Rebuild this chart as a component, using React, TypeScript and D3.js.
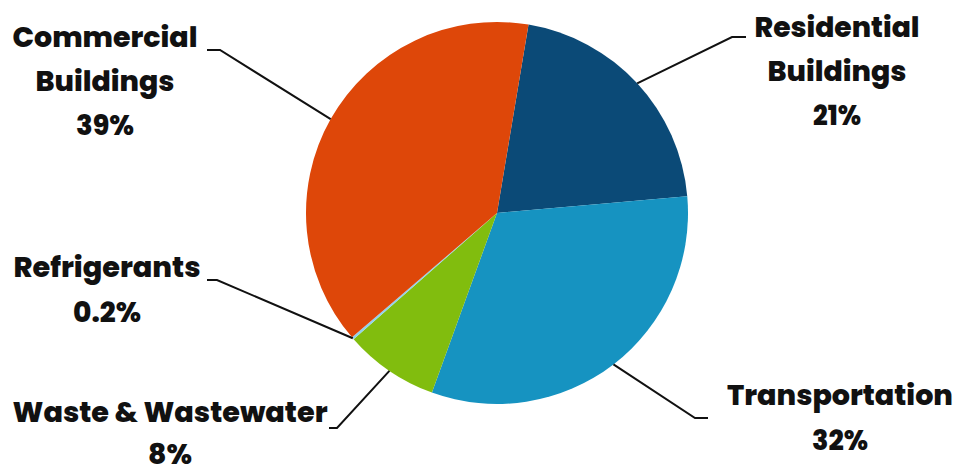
import React from "react";
import * as d3 from "d3";

const categories = [
  "Residential Buildings",
  "Transportation",
  "Waste & Wastewater",
  "Refrigerants",
  "Commercial Buildings",
];
const values = [21, 32, 8, 0.2, 39];
const labelLines = [
  ["Residential", "Buildings"],
  ["Transportation"],
  ["Waste & Wastewater"],
  ["Refrigerants"],
  ["Commercial", "Buildings"],
];
const colors = ["#0B4A77", "#1693C1", "#81BD0E", "#92D2EC", "#DE4709"];

const W = 959;
const H = 469;
const CX = 497;
const CY = 213;
const R = 191;
const START_DEG = 9.5;

// layout for labels: center x, first baseline, line gap, leader elbow & end, widths
const labelLayout = [
  { x: 837, y: 37, gap: 44, elbow: [732, 37], end: [746, 37], widths: [165, 139, 48] },
  { x: 840, y: 405, gap: 45, elbow: [695, 418], end: [708, 418], widths: [226, 56] },
  { x: 170, y: 422, gap: 42, elbow: [337, 428], end: [329, 428], widths: [315, 44] },
  { x: 107, y: 277, gap: 45, elbow: [217, 280], end: [207, 280], widths: [187, 68] },
  { x: 105, y: 47, gap: 44, elbow: [220, 50], end: [207, 50], widths: [185, 139, 58] },
];

export default function App() {
  const pie = d3
    .pie<number>()
    .sort(null)
    .value((d) => d)
    .startAngle((START_DEG * Math.PI) / 180)
    .endAngle((START_DEG * Math.PI) / 180 + 2 * Math.PI);
  const arcs = pie(values);
  const arc = d3.arc<d3.PieArcDatum<number>>().innerRadius(0).outerRadius(R);
  const edge = d3.arc<d3.PieArcDatum<number>>().innerRadius(R).outerRadius(R);

  return (
    <svg
      width={W}
      height={H}
      style={{ position: "absolute", left: 0, top: 0, background: "#fff" }}
    >
      <g transform={`translate(${CX},${CY})`}>
        {arcs.map((a, i) => (
          <path key={categories[i]} d={arc(a) || ""} fill={colors[i]} />
        ))}
      </g>
      {arcs.map((a, i) => {
        const [ex, ey] = edge.centroid(a);
        const L = labelLayout[i];
        const pts = [[CX + ex, CY + ey], L.elbow, L.end];
        return (
          <polyline
            key={"l" + i}
            points={pts.map((p) => p.join(",")).join(" ")}
            fill="none"
            stroke="#111"
            strokeWidth={2}
          />
        );
      })}
      {arcs.map((a, i) => {
        const L = labelLayout[i];
        const lines = [...labelLines[i], `${values[i]}%`];
        return (
          <g key={"t" + i}>
            {lines.map((t, j) => (
              <text
                key={j}
                x={L.x}
                y={L.y + j * L.gap}
                textAnchor="middle"
                fontFamily="Poppins, 'Open Sans', sans-serif"
                fontWeight={800}
                fontSize={27.5}
                fill="#111"
                textLength={L.widths[j]}
                lengthAdjust="spacingAndGlyphs"
              >
                {t}
              </text>
            ))}
          </g>
        );
      })}
    </svg>
  );
}
